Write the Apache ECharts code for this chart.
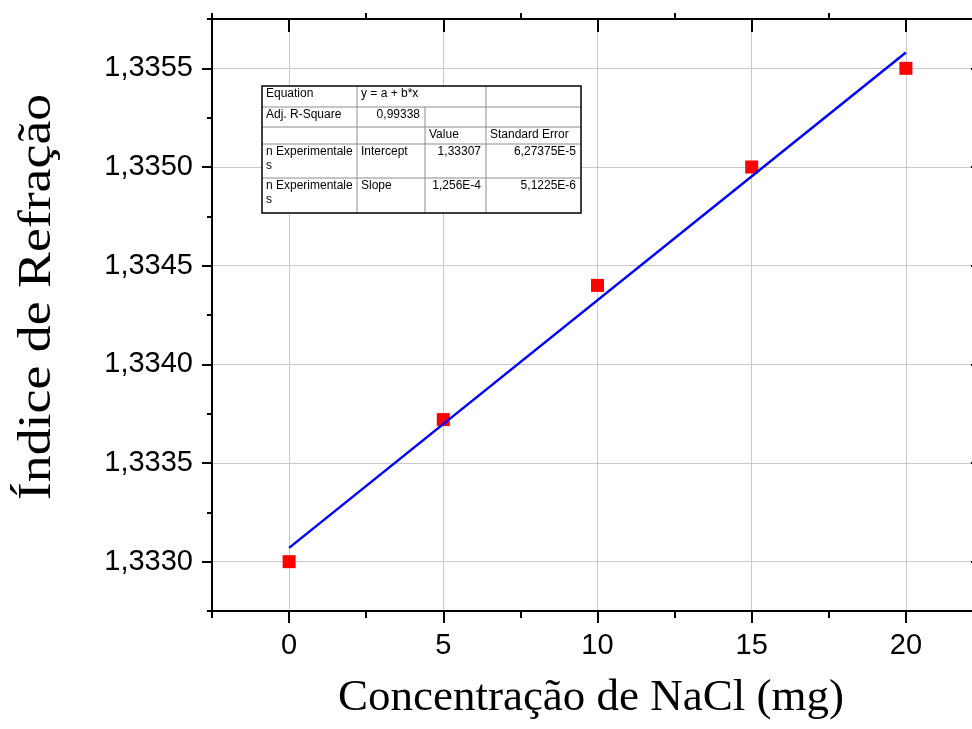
<!DOCTYPE html>
<html>
<head>
<meta charset="utf-8">
<script src="https://cdn.jsdelivr.net/npm/echarts@6/dist/echarts.min.js"></script>
<style>html,body{margin:0;padding:0;background:#fff}#c{width:972px;height:729px}</style>
</head>
<body>
<div id="c"></div>
<script>
// ---- data ----
const concentration = [0, 5, 10, 15, 20];
const refractiveIndex = [1.3330, 1.33372, 1.3344, 1.3350, 1.3355];
const fitX = [0, 20];
const fitY = [1.33307, 1.33558];
const xMajorTicks = [0, 5, 10, 15, 20];
const xMinorTicks = [-2.5, 2.5, 7.5, 12.5, 17.5, 22.5];
const yMajorTicks = [1.3330, 1.3335, 1.3340, 1.3345, 1.3350, 1.3355];
const yMinorTicks = [1.33275, 1.33325, 1.33375, 1.33425, 1.33475, 1.33525, 1.33575];
const xTitle = 'Concentração de NaCl (mg)';
const yTitle = 'Índice de Refração';
const tableRow0 = ['Equation', 'y = a + b*x', '', ''];
const tableRow1 = ['Adj. R-Square', '0,99338', '', ''];
const tableRow2 = ['', '', 'Value', 'Standard Error'];
const tableRow3 = ['n Experimentale\ns', 'Intercept', '1,33307', '6,27375E-5'];
const tableRow4 = ['n Experimentale\ns', 'Slope', '1,256E-4', '5,1225E-6'];
const tableRows = [tableRow0, tableRow1, tableRow2, tableRow3, tableRow4];

// ---- layout ----
const X_MIN = -2.5, X_MAX = 22.5, Y_MIN = 1.33275, Y_MAX = 1.33575;
const colEdges = [262, 357, 425, 486, 581];
const rowEdges = [86, 107, 127, 144, 178, 213];
const black = '#000';
const axisLineStyle = { color: black, width: 2 };
const tickStyle = { color: black, width: 2 };
const gridLayout = { left: 212, top: 19, right: -11, bottom: 118, outerBoundsMode: 'none', containLabel: false };

const chart = echarts.init(document.getElementById('c'), null, { renderer: 'canvas' });

function hiddenAxisParts() {
  return { axisLabel: { show: false }, splitLine: { show: false }, minorTick: { show: false } };
}

// table graphics
const tableEls = [];
tableEls.push({
  type: 'rect', z: 100,
  shape: { x: colEdges[0], y: rowEdges[0], width: colEdges[4] - colEdges[0], height: rowEdges[5] - rowEdges[0] },
  style: { fill: '#fff', stroke: 'none' }
});
for (let r = 1; r < rowEdges.length - 1; r++) {
  tableEls.push({ type: 'line', z: 101, shape: { x1: colEdges[0], y1: rowEdges[r], x2: colEdges[4], y2: rowEdges[r] },
    style: { stroke: '#8c8c8c', lineWidth: 1 } });
}
for (let c = 1; c < colEdges.length - 1; c++) {
  const yStart = (c === 2) ? rowEdges[1] : rowEdges[0];
  tableEls.push({ type: 'line', z: 101, shape: { x1: colEdges[c], y1: yStart, x2: colEdges[c], y2: rowEdges[5] },
    style: { stroke: '#8c8c8c', lineWidth: 1 } });
}
tableEls.push({
  type: 'rect', z: 102,
  shape: { x: colEdges[0], y: rowEdges[0], width: colEdges[4] - colEdges[0], height: rowEdges[5] - rowEdges[0] },
  style: { fill: 'none', stroke: black, lineWidth: 1.5 }
});
tableRows.forEach((row, r) => {
  row.forEach((txt, c) => {
    if (!txt) return;
    const numeric = /^[0-9]/.test(txt);
    tableEls.push({
      type: 'text', z: 103,
      x: numeric ? colEdges[c + 1] - 5 : colEdges[c] + 4,
      y: rowEdges[r] + 1,
      style: {
        text: txt, font: '12px "Liberation Sans", Arial, sans-serif', fill: black,
        align: numeric ? 'right' : 'left', textAlign: numeric ? 'right' : 'left',
        verticalAlign: 'top', textVerticalAlign: 'top', lineHeight: 14
      }
    });
  });
});

const option = {
  animation: false,
  backgroundColor: '#fff',
  grid: [Object.assign({}, gridLayout), Object.assign({}, gridLayout)],
  xAxis: [
    { gridIndex: 0, type: 'value', position: 'bottom', min: X_MIN, max: X_MAX,
      axisLine: { show: true, onZero: false, lineStyle: axisLineStyle },
      axisTick: { show: true, inside: false, length: 12, customValues: xMajorTicks, lineStyle: tickStyle },
      axisLabel: { show: true, customValues: xMajorTicks, margin: 20, fontSize: 29, color: black,
        fontFamily: '"Liberation Sans", Arial, sans-serif', formatter: v => String(v) },
      splitLine: { show: true, lineStyle: { color: '#c8c8c8', width: 1 } },
      minorTick: { show: false } },
    { gridIndex: 0, type: 'value', position: 'top', min: X_MIN, max: X_MAX,
      axisLine: { show: true, onZero: false, lineStyle: axisLineStyle },
      axisTick: { show: true, inside: true, length: 13, customValues: xMajorTicks, lineStyle: tickStyle },
      ...hiddenAxisParts() },
    { gridIndex: 1, type: 'value', position: 'bottom', min: X_MIN, max: X_MAX,
      axisLine: { show: false, onZero: false },
      axisTick: { show: true, inside: false, length: 7, customValues: xMinorTicks, lineStyle: tickStyle },
      ...hiddenAxisParts() },
    { gridIndex: 1, type: 'value', position: 'top', min: X_MIN, max: X_MAX,
      axisLine: { show: false, onZero: false },
      axisTick: { show: true, inside: false, length: 6, customValues: xMinorTicks, lineStyle: tickStyle },
      ...hiddenAxisParts() }
  ],
  yAxis: [
    { gridIndex: 0, type: 'value', position: 'left', min: Y_MIN, max: Y_MAX,
      axisLine: { show: true, onZero: false, lineStyle: axisLineStyle },
      axisTick: { show: true, inside: false, length: 10, customValues: yMajorTicks, lineStyle: tickStyle },
      axisLabel: { show: true, customValues: yMajorTicks, margin: 19, fontSize: 29, color: black,
        fontFamily: '"Liberation Sans", Arial, sans-serif', formatter: v => v.toFixed(4).replace('.', ',') },
      splitLine: { show: true, lineStyle: { color: '#c8c8c8', width: 1 } },
      minorTick: { show: false } },
    { gridIndex: 0, type: 'value', position: 'right', min: Y_MIN, max: Y_MAX,
      axisLine: { show: true, onZero: false, lineStyle: axisLineStyle },
      axisTick: { show: true, inside: true, length: 12, customValues: yMajorTicks, lineStyle: tickStyle },
      ...hiddenAxisParts() },
    { gridIndex: 1, type: 'value', position: 'left', min: Y_MIN, max: Y_MAX,
      axisLine: { show: false, onZero: false },
      axisTick: { show: true, inside: false, length: 5, customValues: yMinorTicks, lineStyle: tickStyle },
      ...hiddenAxisParts() }
  ],
  graphic: {
    elements: [
      { type: 'text', x: 591, y: 698, z: 50,
        style: { text: xTitle, font: '45px "Liberation Serif", "Times New Roman", serif', fill: black,
          align: 'center', textAlign: 'center', verticalAlign: 'middle', textVerticalAlign: 'middle' } },
      { type: 'text', x: 38, y: 297, rotation: Math.PI / 2, scaleX: 1.17, scaleY: 1, z: 50,
        style: { text: yTitle, font: '46px "Liberation Serif", "Times New Roman", serif', fill: black,
          align: 'center', textAlign: 'center', verticalAlign: 'middle', textVerticalAlign: 'middle' } },
      ...tableEls
    ]
  },
  series: [
    { type: 'scatter', xAxisIndex: 0, yAxisIndex: 0, z: 2,
      symbol: 'rect', symbolSize: 13,
      itemStyle: { color: '#ff0000', opacity: 1 },
      data: concentration.map((x, i) => [x, refractiveIndex[i]]) },
    { type: 'line', xAxisIndex: 0, yAxisIndex: 0, z: 3,
      showSymbol: false, symbol: 'none',
      lineStyle: { color: '#0000ff', width: 2.5 },
      data: fitX.map((x, i) => [x, fitY[i]]) }
  ]
};
chart.setOption(option);
</script>
</body>
</html>
